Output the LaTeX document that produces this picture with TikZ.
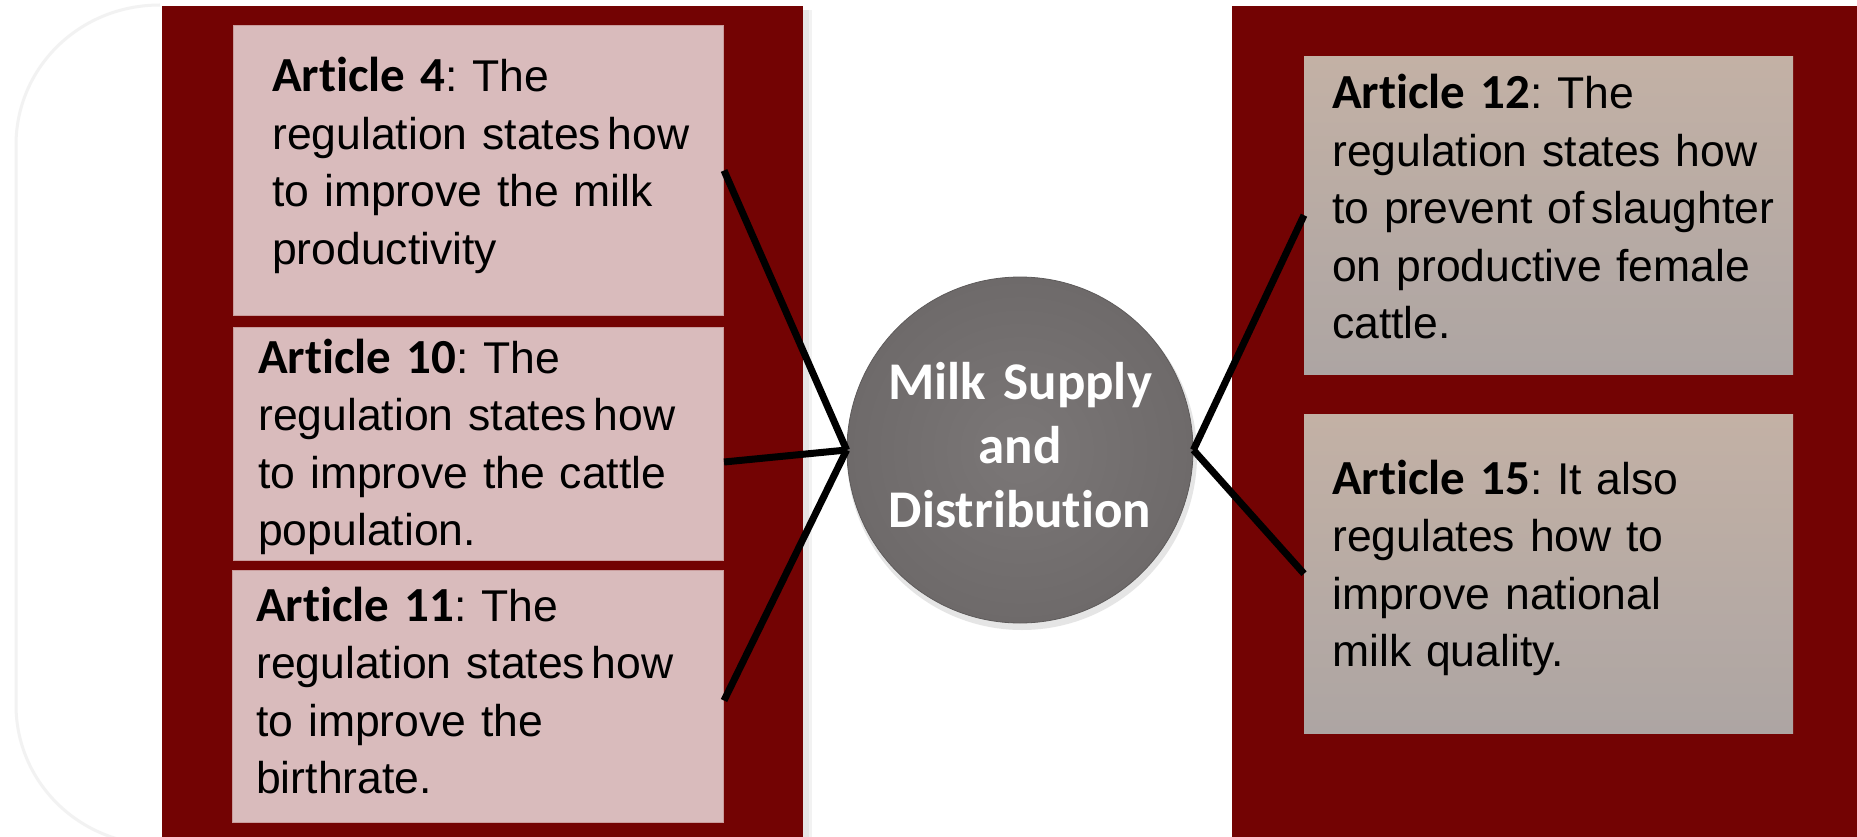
\documentclass[tikz,border=0pt]{standalone}
\usepackage{fontspec}
\setmainfont{Liberation Sans}
\newfontfamily\calfont[Ligatures=NoCommon]{Carlito}
\definecolor{panelred}{HTML}{730303}
\definecolor{pinkbox}{HTML}{D9BBBC}
\definecolor{pinkedge}{HTML}{C99C9C}
\definecolor{tantop}{HTML}{C3B1A5}
\definecolor{tanbot}{HTML}{ADA5A3}
\definecolor{ballin}{HTML}{7B7777}
\definecolor{ballout}{HTML}{6E6A6A}
\newcommand{\art}[1]{{\fontsize{49}{57.5}\calfont\bfseries #1}}
\newcommand{\tsp}{\hspace{0.15em}}
\begin{document}
\frenchspacing
\begin{tikzpicture}[x=1pt,y=-1pt,
  panel/.style={fill=panelred,draw=none},
  leftbox/.style={fill=pinkbox,draw=pinkedge,line width=1pt,anchor=north west,inner sep=0pt},
  rightbox/.style={top color=tantop,bottom color=tanbot,draw=none,anchor=north west,inner sep=0pt},
  bodytext/.style={anchor=base west,inner sep=0pt,text width=#1,align=left,
    font=\fontsize{44.5}{57.5}\selectfont},
  link/.style={line width=7pt,draw=black}
]
\useasboundingbox (0,0) rectangle (1857,837);
\fill[white] (0,0) rectangle (1857,837);

% faint rounded backdrop on the left
\draw[line width=3pt,draw=black!5]
  (160,5) .. controls (79,5) and (16,68) .. (16,145) -- (16,705)
  .. controls (16,782) and (79,845) .. (160,845);

% dark red panels, the left one with a soft edge shadow
\fill[black!10] (803,10) rectangle (809,837);
\fill[black!5] (809,10) rectangle (812,837);
\fill[panel] (162,6) rectangle (803,840);
\fill[panel] (1232,6) rectangle (1860,840);

% left article boxes
\node[leftbox,minimum width=490pt,minimum height=290pt] (b1) at (233,25) {};
\node[leftbox,minimum width=490pt,minimum height=233pt] (b2) at (233,327) {};
\node[leftbox,minimum width=491pt,minimum height=252pt] (b3) at (232,570) {};

% right article boxes
\node[rightbox,minimum width=489pt,minimum height=318pt] (b12) at (1304,56) {};
\node[rightbox,minimum width=489pt,minimum height=319pt] (b15) at (1304,414) {};

% texts
\node[bodytext=440pt] (t1) at (272,92)
  {\art{Article 4}: The\\regulation states\tsp how\\to improve the milk\\productivity};
\node[bodytext=450pt] (t2) at (258,373)
  {\art{Article 10}: The\\regulation states\tsp how\\to improve the cattle\\population.};
\node[bodytext=450pt] (t3) at (256,621)
  {\art{Article 11}: The\\regulation states\tsp how\\to improve the\\birthrate.};
\node[bodytext=460pt] (t12) at (1332,109)
  {\art{Article 12}: The\\regulation states how\\to prevent of\tsp slaughter\\on productive female\\cattle.};
\node[bodytext=460pt] (t15) at (1332,494)
  {\art{Article 15}: It also\\regulates how to\\improve national\\milk quality.};

% central hub
\fill[black!10] (1022,455) circle (175pt);
\node[circle,minimum size=346pt,inner sep=0pt,inner color=ballin,outer color=ballout,
      draw=ballout!85!black,line width=0.8pt] (hub) at (1020,450) {};
\node[inner sep=0pt,text width=340pt,align=center,anchor=base,text=white,
      font=\fontsize{53}{64}\calfont\bfseries] (hubtext) at (1020,399)
  {Milk Supply\\and\\Distribution};

% connectors
\draw[link] (b1.east) -- (hub.west);
\draw[link] ([yshift=-18pt]b2.east) -- (hub.west);
\draw[link] ([yshift=-4pt]b3.east) -- (hub.west);
\draw[link] (hub.east) -- (b12.west);
\draw[link] (hub.east) -- (b15.west);
\end{tikzpicture}
\end{document}
